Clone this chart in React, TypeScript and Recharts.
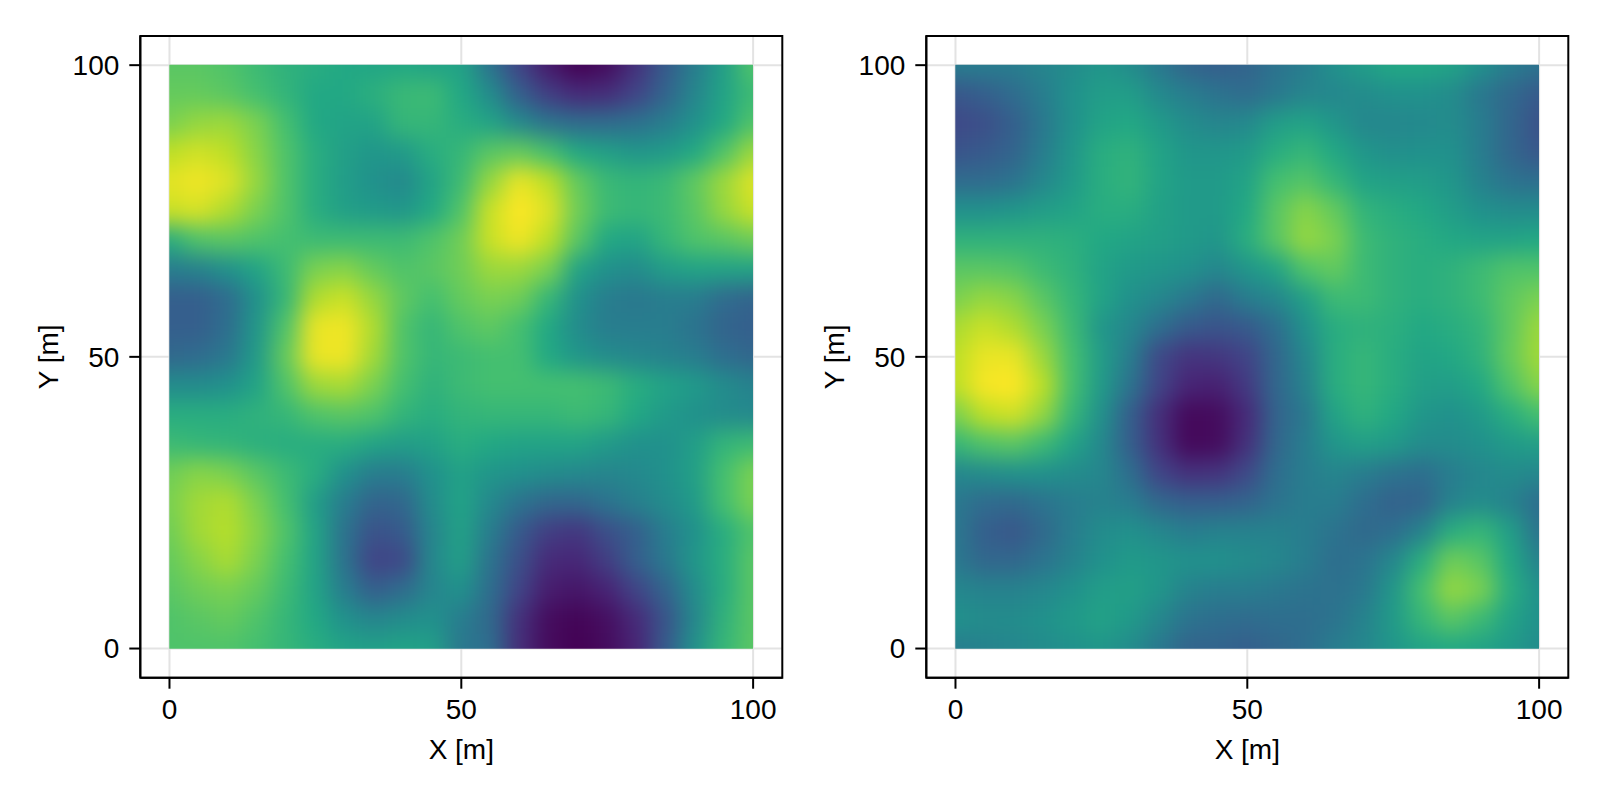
import React from 'react';
import { ScatterChart, Scatter, XAxis, YAxis, CartesianGrid, ReferenceArea } from 'recharts';

// Grid coordinates in metres
const xValues = [0,5,10,15,20,25,30,35,40,45,50,55,60,65,70,75,80,85,90,95,100];
const yValues = [100,95,90,85,80,75,70,65,60,55,50,45,40,35,30,25,20,15,10,5,0];
const axisTicks = [0,50,100];

// Normalised colour values, one row per y value, top to bottom
const leftField = [
[.74,.74,.72,.68,.64,.62,.60,.59,.60,.58,.58,.38,.20,.07,.00,.03,.14,.28,.42,.56,.72],
[.76,.76,.74,.70,.65,.60,.60,.63,.67,.68,.60,.48,.30,.18,.12,.13,.20,.32,.45,.58,.68],
[.80,.84,.85,.80,.70,.60,.58,.58,.66,.66,.62,.58,.47,.38,.35,.35,.37,.42,.50,.60,.72],
[.90,.93,.90,.82,.72,.62,.56,.52,.54,.62,.66,.74,.76,.70,.60,.56,.52,.54,.60,.72,.85],
[.96,.98,.95,.84,.72,.62,.55,.50,.47,.58,.68,.84,.97,.90,.76,.67,.65,.67,.75,.85,.95],
[.92,.94,.88,.80,.72,.62,.56,.54,.52,.60,.72,.92,1.0,.95,.78,.68,.66,.68,.74,.84,.92],
[.62,.72,.74,.72,.70,.68,.68,.68,.68,.72,.78,.92,.98,.90,.74,.60,.58,.66,.72,.74,.78],
[.42,.44,.50,.58,.68,.80,.82,.76,.72,.74,.78,.85,.85,.80,.58,.50,.48,.55,.58,.58,.58],
[.30,.30,.35,.50,.66,.88,.92,.84,.75,.70,.76,.80,.78,.66,.50,.42,.40,.42,.42,.35,.32],
[.30,.30,.36,.52,.72,.97,.98,.88,.72,.66,.72,.75,.70,.60,.48,.42,.42,.42,.38,.32,.30],
[.34,.35,.40,.54,.76,.97,.98,.86,.72,.66,.68,.70,.70,.60,.52,.48,.46,.44,.42,.36,.33],
[.48,.48,.50,.58,.72,.85,.87,.80,.70,.64,.68,.70,.70,.70,.70,.68,.62,.58,.54,.48,.44],
[.62,.62,.62,.64,.66,.72,.74,.72,.65,.62,.65,.66,.66,.66,.68,.66,.60,.54,.50,.48,.47],
[.68,.66,.65,.63,.62,.62,.62,.58,.55,.57,.62,.60,.58,.58,.58,.54,.50,.50,.55,.65,.68],
[.78,.82,.80,.74,.68,.62,.50,.42,.42,.50,.57,.52,.50,.48,.47,.45,.47,.50,.56,.70,.80],
[.80,.86,.88,.80,.70,.55,.42,.32,.33,.48,.58,.47,.38,.33,.33,.38,.43,.48,.54,.70,.80],
[.78,.86,.89,.82,.72,.58,.38,.25,.28,.45,.57,.42,.28,.18,.16,.24,.30,.42,.50,.62,.72],
[.76,.82,.87,.80,.70,.58,.38,.20,.22,.46,.56,.38,.24,.12,.11,.18,.30,.40,.52,.62,.74],
[.74,.78,.80,.76,.68,.58,.42,.30,.35,.45,.50,.36,.20,.08,.06,.10,.20,.32,.48,.62,.74],
[.72,.74,.76,.72,.66,.60,.50,.45,.48,.50,.42,.34,.14,.03,.01,.04,.12,.26,.46,.64,.74],
[.72,.72,.72,.70,.66,.62,.58,.56,.58,.56,.40,.36,.13,.03,.00,.03,.10,.28,.50,.66,.74],
];

const rightField = [
[.42,.42,.42,.45,.48,.52,.48,.40,.32,.30,.32,.38,.42,.50,.55,.60,.60,.58,.50,.42,.38],
[.27,.30,.35,.42,.50,.55,.55,.47,.42,.38,.35,.40,.45,.46,.48,.50,.50,.48,.40,.34,.28],
[.22,.24,.30,.40,.50,.58,.60,.54,.48,.45,.47,.55,.58,.52,.46,.46,.47,.48,.42,.33,.25],
[.26,.28,.32,.42,.52,.62,.64,.58,.52,.52,.54,.62,.66,.60,.52,.49,.50,.50,.42,.33,.27],
[.35,.35,.38,.46,.54,.62,.65,.58,.54,.54,.58,.70,.73,.66,.58,.56,.55,.52,.44,.38,.36],
[.50,.50,.52,.55,.58,.62,.62,.57,.54,.54,.60,.74,.82,.76,.65,.62,.60,.55,.50,.48,.48],
[.64,.64,.64,.64,.63,.60,.58,.56,.54,.52,.62,.74,.84,.80,.68,.64,.62,.60,.58,.58,.60],
[.74,.74,.73,.68,.64,.58,.54,.52,.50,.46,.52,.58,.72,.76,.68,.64,.62,.64,.68,.72,.72],
[.80,.84,.82,.74,.66,.58,.50,.46,.40,.34,.42,.46,.56,.68,.68,.64,.62,.64,.68,.75,.80],
[.87,.92,.88,.80,.68,.52,.46,.36,.28,.26,.28,.36,.50,.62,.64,.63,.60,.62,.65,.75,.85],
[.90,.97,.97,.85,.70,.55,.42,.22,.15,.16,.20,.33,.46,.62,.66,.62,.58,.60,.64,.76,.86],
[.90,.99,1.0,.90,.70,.54,.38,.20,.10,.09,.17,.33,.44,.62,.66,.62,.56,.55,.60,.72,.82],
[.80,.90,.93,.84,.66,.50,.30,.13,.02,.03,.12,.32,.40,.58,.64,.60,.52,.50,.54,.62,.70],
[.66,.72,.74,.68,.58,.47,.30,.14,.02,.03,.14,.33,.42,.52,.56,.54,.48,.48,.50,.54,.56],
[.46,.48,.50,.50,.48,.46,.36,.20,.14,.15,.22,.36,.42,.45,.42,.38,.36,.42,.46,.48,.46],
[.40,.35,.34,.38,.42,.44,.42,.33,.30,.30,.32,.38,.42,.42,.36,.31,.32,.44,.48,.44,.36],
[.40,.30,.27,.34,.42,.48,.50,.46,.42,.44,.44,.44,.42,.38,.34,.36,.44,.62,.66,.56,.38],
[.40,.33,.33,.38,.44,.50,.54,.52,.50,.50,.48,.46,.42,.36,.38,.46,.62,.78,.74,.60,.44],
[.46,.44,.44,.46,.50,.55,.56,.52,.44,.42,.42,.40,.38,.37,.40,.52,.70,.84,.80,.62,.50],
[.50,.48,.48,.50,.54,.57,.54,.46,.38,.36,.35,.36,.36,.38,.44,.54,.66,.74,.68,.58,.50],
[.42,.44,.46,.48,.50,.52,.48,.40,.32,.32,.30,.33,.36,.42,.46,.52,.58,.60,.58,.54,.48],
];

const viridisStops = ['#440154','#482475','#414487','#355f8d','#2a788e','#21918c','#22a884','#44bf70','#7ad151','#bddf26','#fde725'];

const hex = (s: string, i: number) => parseInt(s.slice(i, i + 2), 16);
function viridis(v: number) {
  const t = Math.max(0, Math.min(1, v)) * 10;
  const i = Math.min(9, Math.floor(t));
  const f = t - i;
  const a = viridisStops[i], b = viridisStops[i + 1];
  const c = [1, 3, 5].map(k => Math.round(hex(a, k) + (hex(b, k) - hex(a, k)) * f));
  return `rgb(${c[0]},${c[1]},${c[2]})`;
}

const CELL = 29.17;
const BLEED = 50;

const HeatCell = (props: any) => {
  const { cx, cy, payload } = props;
  if (cx == null || cy == null) return null;
  const left = payload.x === 0 ? BLEED : 0;
  const right = payload.x === 100 ? BLEED : 0;
  const top = payload.y === 100 ? BLEED : 0;
  const bottom = payload.y === 0 ? BLEED : 0;
  return (
    <rect
      x={cx - CELL / 2 - 0.5 - left}
      y={cy - CELL / 2 - 0.5 - top}
      width={CELL + 1 + left + right}
      height={CELL + 1 + top + bottom}
      fill={viridis(payload.v)}
    />
  );
};

const toPoints = (field: number[][]) =>
  field.flatMap((row, j) => row.map((v, i) => ({ x: xValues[i], y: yValues[j], v })));

const font = 'Liberation Sans, Arial, sans-serif';
const tickStyle = { fontSize: 28, fill: '#000', fontFamily: font };
const labelStyle = { fontSize: 28, fill: '#000', fontFamily: font };
const axisPen = { stroke: '#000', strokeWidth: 2 };

function Panel({ field, left }: { field: number[][]; left: number }) {
  return (
    <div style={{ position: 'absolute', left, top: 0, width: 800, height: 800 }}>
      <ScatterChart width={800} height={800} margin={{ top: 36, right: 17.7, bottom: 42.3, left: 60.3 }}>
        <CartesianGrid stroke="#e3e3e3" strokeWidth={2} horizontalValues={axisTicks} verticalValues={axisTicks} />
        <XAxis
          type="number" dataKey="x" domain={[-5, 105]} ticks={axisTicks} height={80}
          tick={tickStyle} tickSize={11} tickMargin={10} axisLine={axisPen} tickLine={axisPen}
          label={{ value: 'X [m]', position: 'insideBottom', offset: -1, style: labelStyle }}
        />
        <YAxis
          type="number" dataKey="y" domain={[-5, 105]} ticks={axisTicks} width={80}
          tick={tickStyle} tickSize={11} tickMargin={10} axisLine={axisPen} tickLine={axisPen}
          label={{ value: 'Y [m]', angle: -90, position: 'center', dx: -52, style: labelStyle }}
        />
        <Scatter data={toPoints(field)} shape={HeatCell} isAnimationActive={false} />
        <ReferenceArea x1={-5} x2={105} y1={-5} y2={105} fill="none" stroke="#000" strokeWidth={2} />
      </ScatterChart>
    </div>
  );
}

export default function App() {
  return (
    <div style={{ position: 'absolute', left: 0, top: 0, width: 1600, height: 800, background: '#fff', overflow: 'hidden' }}>
      <svg width={0} height={0} style={{ position: 'absolute' }}>
        <defs>
          <clipPath id="plotClip">
            <rect x={169.3} y={64.8} width={583.7} height={584} />
          </clipPath>
        </defs>
      </svg>
      <style>{`.recharts-scatter{filter:blur(11px);clip-path:url(#plotClip);}`}</style>
      <Panel field={leftField} left={0} />
      <Panel field={rightField} left={786} />
    </div>
  );
}
